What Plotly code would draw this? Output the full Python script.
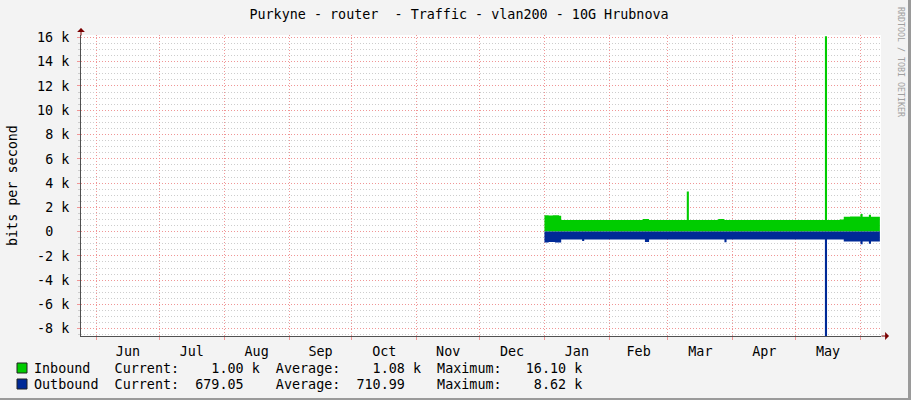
import plotly.graph_objects as go

# ---------------- data ----------------
inbound_dates = ["2025-01-01", "2025-01-03", "2025-01-05", "2025-01-08", "2025-01-09",
                 "2025-02-17", "2025-02-20", "2025-03-10", "2025-03-11", "2025-03-25",
                 "2025-03-28", "2025-05-15", "2025-05-16", "2025-05-22", "2025-05-24",
                 "2025-05-27", "2025-06-01", "2025-06-02", "2025-06-05", "2025-06-06",
                 "2025-06-10 06:00"]
inbound_bps = [1350, 1320, 1340, 1300, 960,
               1030, 960, 3300, 960, 1050,
               960, 16100, 960, 1000, 1220,
               1250, 1450, 1220, 1400, 1220,
               1200]

outbound_dates = ["2025-01-01", "2025-01-03", "2025-01-06", "2025-01-09", "2025-01-19",
                  "2025-01-20", "2025-02-18", "2025-02-20", "2025-03-28", "2025-03-29",
                  "2025-05-15", "2025-05-16", "2025-05-24", "2025-06-01", "2025-06-02",
                  "2025-06-05", "2025-06-06", "2025-06-10 06:00"]
outbound_bps = [-900, -850, -900, -650, -780,
                -650, -850, -650, -880, -650,
                -8620, -650, -820, -1050, -820,
                -1000, -820, -820]

y_tick_values = [-8000, -6000, -4000, -2000, 0, 2000, 4000, 6000, 8000, 10000, 12000, 14000, 16000]
y_tick_labels = ["-8 k", "-6 k", "-4 k", "-2 k", "0\u00a0\u00a0", "2 k", "4 k", "6 k", "8 k",
                 "10 k", "12 k", "14 k", "16 k"]

series_names = ["Inbound", "Outbound"]
stat_current = ["1.00 k", "679.05"]
stat_average = ["1.08 k", "710.99"]
stat_maximum = ["16.10 k", "8.62 k"]

title_text = "Purkyne - router\u00a0 - Traffic - vlan200 - 10G Hrubnova"
x_range = ["2024-05-24 14:00", "2025-06-10 19:00"]
y_range = [-8600, 16200]

# ---------------- styling ----------------
GREEN = "#00CC00"
BLUE = "#002A97"
MONO = "DejaVu Sans Mono"
FS = 13.4
MAJOR = "rgb(240,150,150)"
MINOR = "rgb(205,205,205)"
DASH = "1px 2px"

W, H = 911, 400
L, R, T, B = 81, 30, 35, 64
PW, PH = W - L - R, H - T - B


def px_x(px):
    return (px - L) / PW


def px_y(py):
    return (H - B - py) / PH


fig = go.Figure()
fig.add_trace(go.Scatter(x=inbound_dates, y=inbound_bps, mode="lines", line_shape="hv",
                         line=dict(width=0, color=GREEN), fill="tozeroy", fillcolor=GREEN,
                         name=series_names[0], hoverinfo="skip"))
fig.add_trace(go.Scatter(x=outbound_dates, y=outbound_bps, mode="lines", line_shape="hv",
                         line=dict(width=0, color=BLUE), fill="tozeroy", fillcolor=BLUE,
                         name=series_names[1], hoverinfo="skip"))

fig.update_layout(
    width=W, height=H,
    margin=dict(l=L, r=R, t=T, b=B, pad=0, autoexpand=False),
    paper_bgcolor="#F3F3F3",
    plot_bgcolor="#FFFFFF",
    showlegend=False,
    font=dict(family=MONO, size=FS, color="#000000"),
    title=dict(text=title_text, x=459 / W, xanchor="center", xref="container",
               y=1 - 14 / H, yanchor="middle", yref="container",
               font=dict(family=MONO, size=FS, color="#000000")),
)

fig.update_xaxes(
    type="date", range=x_range,
    dtick="M1", tick0="2024-06-01", tickformat="%b", ticklabelmode="period",
    showgrid=True, gridcolor=MAJOR, griddash=DASH, gridwidth=1,
    ticks="outside", ticklen=3, tickcolor=MAJOR,
    showline=True, linecolor="#505050", linewidth=1,
    zeroline=False,
    tickfont=dict(family=MONO, size=FS, color="#000000"),
)

fig.update_yaxes(
    range=y_range,
    tickmode="array", tickvals=y_tick_values, ticktext=y_tick_labels,
    showgrid=True, gridcolor=MAJOR, griddash=DASH, gridwidth=1,
    ticks="outside", ticklen=3, tickcolor=MAJOR,
    minor=dict(dtick=500, showgrid=True, gridcolor=MINOR, griddash=DASH,
               ticks="outside", ticklen=2, tickcolor=MINOR),
    showline=True, linecolor="#505050", linewidth=1,
    zeroline=False,
    ticklabelstandoff=5,
    tickfont=dict(family=MONO, size=FS, color="#000000"),
)

annotations = []
# axis arrows
annotations.append(dict(x=0, y=px_y(28), xref="paper", yref="paper", ax=0, ay=9,
                        showarrow=True, arrowhead=1, arrowsize=1.3, arrowwidth=1,
                        arrowcolor="#7A0000", text=""))
annotations.append(dict(x=px_x(889), y=0, xref="paper", yref="paper", ax=-9, ay=0,
                        showarrow=True, arrowhead=1, arrowsize=1.3, arrowwidth=1,
                        arrowcolor="#7A0000", text=""))

# y axis title
annotations.append(dict(x=px_x(12), y=px_y(186), xref="paper", yref="paper",
                        text="bits per second", textangle=-90, showarrow=False,
                        xanchor="center", yanchor="middle",
                        font=dict(family=MONO, size=FS, color="#000000")))

# credit
annotations.append(dict(x=px_x(901), y=px_y(5), xref="paper", yref="paper",
                        text="RRDTOOL / TOBI OETIKER", textangle=90, showarrow=False,
                        xanchor="center", yanchor="top",
                        font=dict(family=MONO, size=8.3, color="#A0A0A0")))


def legend_row(i):
    nm = series_names[i]
    s = nm.ljust(10)
    s += "Current:" + stat_current[i].rjust(10 if i == 0 else 8)
    s = s.ljust(30)
    s += "Average:" + stat_average[i].rjust(10 if i == 0 else 8)
    s = s.ljust(50)
    s += "Maximum:" + stat_maximum[i].rjust(10)
    return s.replace(" ", "\u00a0")


row_y = [368, 384]
colors = [GREEN, BLUE]
shapes = []
for i in range(2):
    annotations.append(dict(x=px_x(33), y=px_y(row_y[i]), xref="paper", yref="paper",
                            text=legend_row(i), showarrow=False, xanchor="left",
                            yanchor="middle", align="left", borderpad=0,
                            font=dict(family=MONO, size=FS, color="#000000")))
    shapes.append(dict(type="rect", xref="paper", yref="paper",
                       x0=px_x(17), x1=px_x(27), y0=px_y(row_y[i] + 5), y1=px_y(row_y[i] - 5),
                       fillcolor=colors[i], line=dict(color="#202020", width=1)))

# image frame shadow (right and bottom)
shapes.append(dict(type="rect", xref="paper", yref="paper", x0=px_x(908), x1=px_x(911),
                   y0=px_y(400), y1=px_y(0), fillcolor="#9A9A9A", line=dict(width=0)))
shapes.append(dict(type="rect", xref="paper", yref="paper", x0=px_x(0), x1=px_x(911),
                   y0=px_y(400), y1=px_y(398), fillcolor="#9A9A9A", line=dict(width=0)))

fig.update_layout(annotations=annotations, shapes=shapes)

fig.write_html("out.html", config={"displayModeBar": False},
               post_script="document.body.style.margin='0';document.body.style.padding='0';")
